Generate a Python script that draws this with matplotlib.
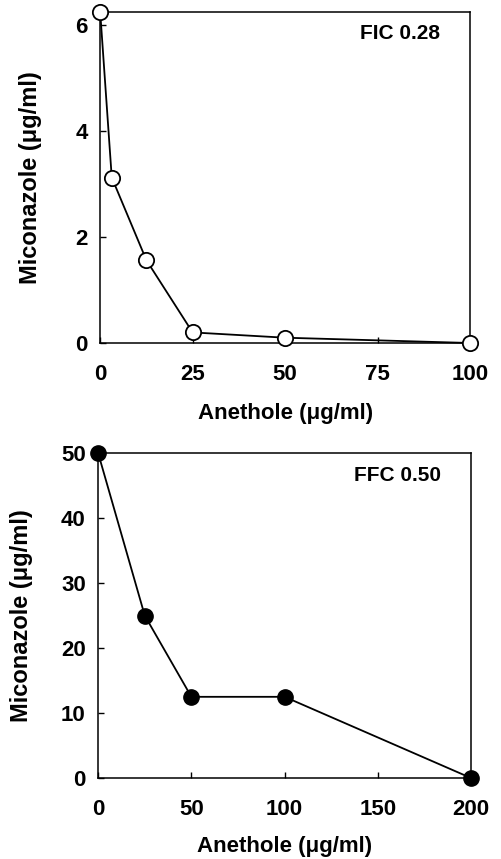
import matplotlib
matplotlib.use("Agg")
import matplotlib.pyplot as plt

# checkerboard data
fic_anethole = [0, 3.125, 12.5, 25, 50, 100]
fic_miconazole = [6.25, 3.125, 1.5625, 0.2, 0.1, 0]

ffc_anethole = [0, 25, 50, 100, 200]
ffc_miconazole = [50, 25, 12.5, 12.5, 0]

plt.rcParams['font.family'] = ['Liberation Sans', 'DejaVu Sans']
plt.rcParams['font.weight'] = 'bold'
plt.rcParams['font.size'] = 15

fig = plt.figure(figsize=(5.01, 8.59), dpi=100)
ax1 = fig.add_axes([0.2, 0.6007, 0.738, 0.3853])
ax2 = fig.add_axes([0.196, 0.0943, 0.744, 0.378])


def style_axis(ax):
    for s in ax.spines.values():
        s.set_linewidth(1.1)
    ax.tick_params(direction='in', length=4, width=1, labelsize=16)
    ax.tick_params(axis='y', pad=9)
    ax.tick_params(axis='x', pad=15)
    for lab in ax.get_xticklabels() + ax.get_yticklabels():
        lab.set_fontweight('bold')


# top panel, open circles
ax1.plot(fic_anethole, fic_miconazole, color='black', lw=1.3, marker='o',
         ms=11, mfc='white', mec='black', mew=1.3, clip_on=False, zorder=3)
ax1.set_xlim(0, 100)
ax1.set_ylim(0, 6.25)
ax1.set_xticks([0, 25, 50, 75, 100])
ax1.set_yticks([0, 2, 4, 6])
ax1.set_xlabel('Anethole (μg/ml)', fontweight='bold', fontsize=16, labelpad=13)
ax1.set_ylabel('Miconazole (μg/ml)', fontweight='bold', fontsize=17, labelpad=24)
ax1.text(0.92, 0.965, 'FIC 0.28', transform=ax1.transAxes, ha='right', va='top',
         fontweight='bold', fontsize=15)
style_axis(ax1)

# bottom panel, filled circles
ax2.plot(ffc_anethole, ffc_miconazole, color='black', lw=1.3, marker='o',
         ms=11, mfc='black', mec='black', clip_on=False, zorder=3)
ax2.set_xlim(0, 200)
ax2.set_ylim(0, 50)
ax2.set_xticks([0, 50, 100, 150, 200])
ax2.set_yticks([0, 10, 20, 30, 40, 50])
ax2.set_xlabel('Anethole (μg/ml)', fontweight='bold', fontsize=16, labelpad=12)
ax2.set_ylabel('Miconazole (μg/ml)', fontweight='bold', fontsize=17, labelpad=20)
ax2.text(0.92, 0.96, 'FFC 0.50', transform=ax2.transAxes, ha='right', va='top',
         fontweight='bold', fontsize=15)
style_axis(ax2)

fig.savefig('out.png', dpi=100)
